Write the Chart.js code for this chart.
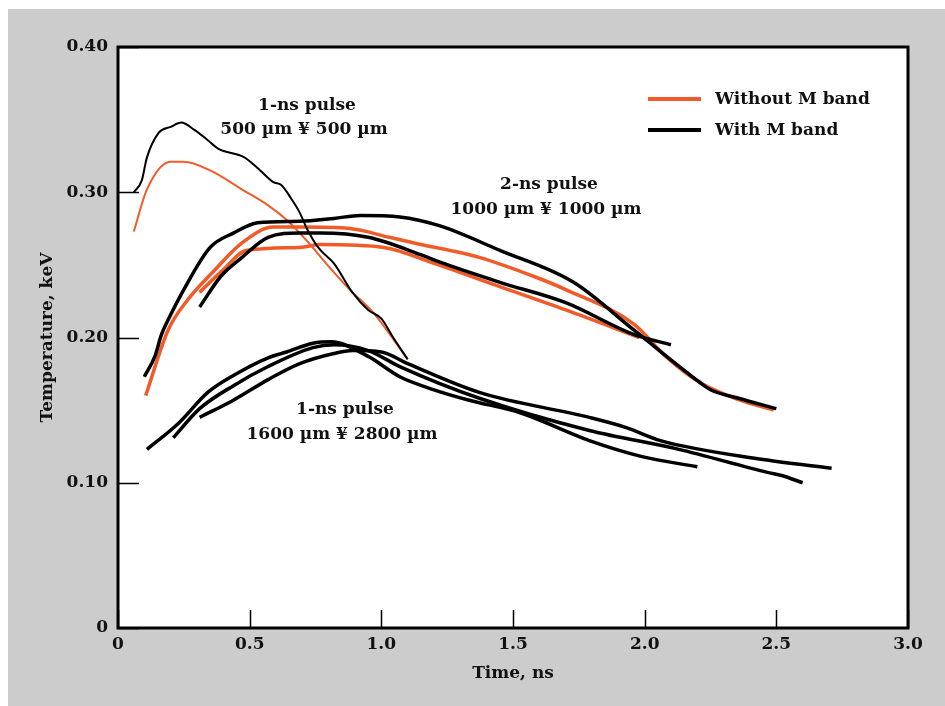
<!DOCTYPE html>
<html>
<head>
<meta charset="utf-8">
<script src="https://cdn.jsdelivr.net/npm/chart.js@4.4.0/dist/chart.umd.min.js"></script>
<style>
  html, body { margin: 0; padding: 0; background: #fff; }
  #wrap { position: relative; width: 945px; height: 706px; }
  #bg { position: absolute; left: 8px; top: 9px; right: 0; bottom: 0; background: #cccccc; }
  canvas { position: absolute; left: 0; top: 0; }
</style>
</head>
<body>
<div id="wrap"><div id="bg"></div><canvas id="tempChart" width="945" height="706"></canvas></div>
<script>
// 1-ns pulse, 500 um x 500 um
const a500WithT = [0.06, 0.09, 0.11, 0.155, 0.20, 0.24, 0.29, 0.34, 0.38, 0.48, 0.54, 0.59, 0.62, 0.66, 0.69, 0.72, 0.76, 0.82, 0.89, 0.95, 1.00, 1.045, 1.10];
const a500WithK = [0.300, 0.308, 0.324, 0.341, 0.345, 0.348, 0.343, 0.336, 0.330, 0.324, 0.315, 0.307, 0.305, 0.295, 0.286, 0.274, 0.262, 0.251, 0.231, 0.219, 0.213, 0.200, 0.185];
const a500WithoutT = [0.06, 0.11, 0.20, 0.25, 0.35, 0.47, 0.57, 0.64, 0.72, 0.80, 0.88, 0.97, 1.10];
const a500WithoutK = [0.273, 0.302, 0.321, 0.321, 0.315, 0.302, 0.291, 0.281, 0.266, 0.249, 0.233, 0.217, 0.185];

// 2-ns pulse, 1000 um x 1000 um
const b1000WithHiT = [0.10, 0.14, 0.165, 0.19, 0.25, 0.35, 0.44, 0.53, 0.69, 0.82, 0.92, 1.07, 1.22, 1.45, 1.73, 1.96, 2.21, 2.25, 2.36, 2.50];
const b1000WithHiK = [0.173, 0.187, 0.202, 0.212, 0.233, 0.262, 0.272, 0.279, 0.280, 0.282, 0.284, 0.283, 0.277, 0.260, 0.238, 0.205, 0.169, 0.164, 0.158, 0.151];
const b1000WithLoT = [0.31, 0.39, 0.47, 0.57, 0.69, 0.77, 0.95, 1.15, 1.22, 1.45, 1.70, 1.96, 2.10];
const b1000WithLoK = [0.221, 0.242, 0.255, 0.269, 0.272, 0.272, 0.269, 0.257, 0.252, 0.238, 0.224, 0.202, 0.195];
const b1000WithoutHiT = [0.105, 0.19, 0.265, 0.365, 0.47, 0.59, 0.69, 0.88, 1.03, 1.15, 1.26, 1.375, 1.58, 1.70, 1.96, 2.08, 2.21, 2.36, 2.49];
const b1000WithoutHiK = [0.160, 0.205, 0.226, 0.246, 0.265, 0.276, 0.276, 0.275, 0.269, 0.264, 0.260, 0.255, 0.242, 0.233, 0.209, 0.187, 0.169, 0.157, 0.150];
const b1000WithoutLoT = [0.31, 0.39, 0.49, 0.69, 0.77, 1.01, 1.20, 1.45, 1.70, 1.98];
const b1000WithoutLoK = [0.231, 0.245, 0.260, 0.262, 0.264, 0.262, 0.251, 0.235, 0.219, 0.200];

// 1-ns pulse, 1600 um x 2800 um (with M band only)
const c1600AT = [0.11, 0.23, 0.34, 0.44, 0.57, 0.64, 0.74, 0.81, 0.95, 1.07, 1.20, 1.33, 1.53, 1.79, 1.99, 2.20];
const c1600AK = [0.123, 0.141, 0.162, 0.174, 0.186, 0.190, 0.196, 0.197, 0.187, 0.173, 0.164, 0.157, 0.148, 0.129, 0.118, 0.111];
const c1600BT = [0.21, 0.31, 0.44, 0.57, 0.74, 0.82, 0.95, 1.07, 1.375, 1.79, 2.13, 2.47, 2.52, 2.60];
const c1600BK = [0.131, 0.151, 0.167, 0.180, 0.193, 0.195, 0.191, 0.180, 0.158, 0.136, 0.123, 0.107, 0.105, 0.100];
const c1600CT = [0.31, 0.44, 0.57, 0.69, 0.82, 0.89, 1.00, 1.10, 1.375, 1.79, 1.93, 2.06, 2.45, 2.71];
const c1600CK = [0.145, 0.157, 0.171, 0.182, 0.189, 0.191, 0.190, 0.182, 0.162, 0.145, 0.138, 0.129, 0.116, 0.110];

const yTickValues = [0, 0.1, 0.2, 0.3, 0.4];
const xTickValues = [0, 0.5, 1.0, 1.5, 2.0, 2.5, 3.0];
const legendLabels = ['Without M band', 'With M band'];

const ORANGE = '#f15a29';
const BLACK = '#000000';
const FONT = 'DejaVu Serif';

function pts(xs, ys) {
    return xs.map(function (x, i) { return {x: x, y: ys[i]}; });
}

function series(xs, ys, color, width) {
    return {
        data: pts(xs, ys),
        borderColor: color,
        borderWidth: width,
        pointRadius: 0,
        cubicInterpolationMode: 'monotone',
        fill: false
    };
}

// black first so it sits on top of the orange lines
const datasets = [
    series(a500WithT, a500WithK, BLACK, 2),
    series(b1000WithHiT, b1000WithHiK, BLACK, 3.5),
    series(b1000WithLoT, b1000WithLoK, BLACK, 3.5),
    series(c1600AT, c1600AK, BLACK, 3.5),
    series(c1600BT, c1600BK, BLACK, 3.5),
    series(c1600CT, c1600CK, BLACK, 3.5),
    series(a500WithoutT, a500WithoutK, ORANGE, 2),
    series(b1000WithoutHiT, b1000WithoutHiK, ORANGE, 3.5),
    series(b1000WithoutLoT, b1000WithoutLoK, ORANGE, 3.5)
];

// notes drawn on the plot: text, centre x, centre y (pixels)
const notes = [
    ['1-ns pulse', 307, 106], ['500 µm ¥ 500 µm', 304, 130],
    ['2-ns pulse', 549, 185], ['1000 µm ¥ 1000 µm', 546, 210],
    ['1-ns pulse', 345, 410], ['1600 µm ¥ 2800 µm', 342, 435]
];

const framePlugin = {
    id: 'frame',
    beforeDatasetsDraw(chart) {
        const {ctx, chartArea: a} = chart;
        ctx.save();
        ctx.fillStyle = '#fff';
        ctx.fillRect(a.left, a.top, a.right - a.left, a.bottom - a.top);
        ctx.restore();
    },
    afterDraw(chart) {
        const {ctx, chartArea: a, scales} = chart;
        ctx.save();
        // inward ticks
        ctx.strokeStyle = '#000';
        ctx.lineWidth = 1.5;
        ctx.beginPath();
        for (let v of yTickValues) {
            const y = Math.round(scales.y.getPixelForValue(v)) + 0.5;
            ctx.moveTo(a.left, y);
            ctx.lineTo(a.left + 21, y);
        }
        for (let v of xTickValues) {
            const x = Math.round(scales.x.getPixelForValue(v)) + 0.5;
            ctx.moveTo(x, a.bottom);
            ctx.lineTo(x, a.bottom - 18);
        }
        ctx.stroke();
        // frame
        ctx.lineWidth = 3;
        ctx.strokeRect(a.left, a.top, a.right - a.left, a.bottom - a.top);

        // notes
        ctx.fillStyle = '#111';
        ctx.font = 'bold 17px "' + FONT + '"';
        ctx.textAlign = 'center';
        ctx.textBaseline = 'middle';
        for (let n of notes) {
            ctx.fillText(n[0], n[1], n[2]);
        }

        // legend
        const legendColors = [ORANGE, BLACK];
        ctx.textAlign = 'left';
        for (let i = 0; i < legendLabels.length; i++) {
            const y = 99 + i * 31;
            ctx.strokeStyle = legendColors[i];
            ctx.lineWidth = 4;
            ctx.beginPath();
            ctx.moveTo(648, y);
            ctx.lineTo(701, y);
            ctx.stroke();
            ctx.fillStyle = '#111';
            ctx.fillText(legendLabels[i], 715, y + 1);
        }
        ctx.restore();
    }
};

const tickFont = {family: FONT, size: 17, weight: 'bold'};

new Chart(document.getElementById('tempChart').getContext('2d'), {
    type: 'line',
    data: {datasets: datasets},
    options: {
        responsive: false,
        animation: false,
        layout: {padding: {left: 0, right: 37, top: 47, bottom: 0}},
        plugins: {legend: {display: false}, tooltip: {enabled: false}},
        scales: {
            x: {
                type: 'linear',
                min: 0,
                max: 3,
                afterFit: function (scale) { scale.height = 78; },
                grid: {display: false, drawTicks: false},
                border: {display: false},
                ticks: {
                    stepSize: 0.5,
                    padding: 6,
                    color: '#111',
                    font: tickFont,
                    maxRotation: 0,
                    callback: function (v) { return v === 0 ? '0' : v.toFixed(1); }
                },
                title: {
                    display: true,
                    text: 'Time, ns',
                    color: '#111',
                    font: tickFont,
                    padding: {top: 0, bottom: 22}
                }
            },
            y: {
                type: 'linear',
                min: 0,
                max: 0.4,
                afterFit: function (scale) { scale.width = 118; },
                grid: {display: false, drawTicks: false},
                border: {display: false},
                ticks: {
                    stepSize: 0.1,
                    padding: 10,
                    color: '#111',
                    font: tickFont,
                    callback: function (v) { return v === 0 ? '0' : v.toFixed(2); }
                },
                title: {
                    display: true,
                    text: 'Temperature, keV',
                    color: '#111',
                    font: tickFont,
                    padding: {top: 37, bottom: 0}
                }
            }
        }
    },
    plugins: [framePlugin]
});
</script>
</body>
</html>
